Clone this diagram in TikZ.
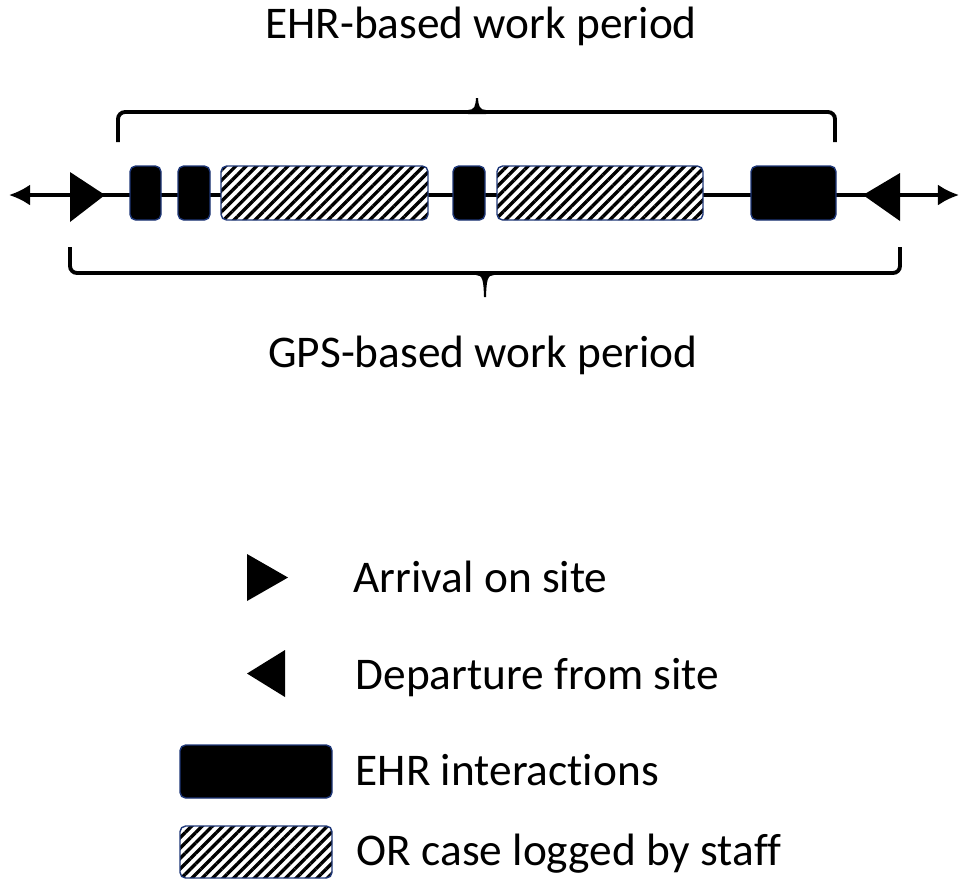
\documentclass[tikz,border=0pt]{standalone}
\usepackage{fontspec}
\setmainfont[Ligatures=NoCommon]{Carlito}
\usepackage{tikz}
\usetikzlibrary{arrows.meta, patterns.meta}
\definecolor{edgeblue}{RGB}{30,55,120}

\tikzset{
  ehrbox/.style={draw=edgeblue, line width=0.4pt, fill=black, rounded corners=1.6pt, inner sep=0pt, minimum height=0.54cm},
  orbox/.style={draw=edgeblue, line width=0.4pt, rounded corners=1.6pt, inner sep=0pt, minimum height=0.54cm,
    preaction={fill=white}, pattern={Lines[angle=45, distance=2.1pt, line width=0.95pt]}},
  brace/.style={line width=1.1pt, rounded corners=2pt},
  lbl/.style={font=\fontsize{12.9}{15}\selectfont, inner sep=0pt},
  keylbl/.style={lbl, anchor=base west},
  endtip/.tip={Latex[length=6pt,width=6pt]}
}

\begin{document}
\begin{tikzpicture}
  \useasboundingbox (0,0) rectangle (9.59,-8.82);
  % time line
  \coordinate (tl) at (0.09,-1.95);
  \coordinate (tr) at (9.59,-1.95);
  \draw[line width=0.9pt, endtip-endtip] (tl) -- (tr);
  % arrival / departure
  \fill (0.70,-1.72) -- (1.05,-1.95) -- (0.70,-2.22) -- cycle;
  \fill (9.00,-1.73) -- (8.63,-1.95) -- (9.00,-2.21) -- cycle;
  % EHR interactions and OR cases
  \node[ehrbox, minimum width=0.31cm] (e1) at (1.455,-1.93) {};
  \node[ehrbox, minimum width=0.32cm] (e2) at (1.94,-1.93) {};
  \node[orbox, minimum width=2.07cm] (c1) at (3.245,-1.93) {};
  \node[ehrbox, minimum width=0.32cm] (e3) at (4.69,-1.93) {};
  \node[orbox, minimum width=2.06cm] (c2) at (6.00,-1.93) {};
  \node[ehrbox, minimum width=0.85cm] (e4) at (7.935,-1.93) {};
  % braces
  \draw[brace] (1.18,-1.42) -- (1.18,-1.12) -- (4.70,-1.12);
  \draw[brace] (8.35,-1.42) -- (8.35,-1.12) -- (4.84,-1.12);
  \fill (4.68,-1.10) .. controls (4.745,-1.10) and (4.755,-1.06) .. (4.76,-0.98) -- (4.78,-0.98)
        .. controls (4.785,-1.06) and (4.795,-1.10) .. (4.86,-1.10) -- (4.86,-1.14) -- (4.68,-1.14) -- cycle;
  \draw[brace] (0.70,-2.47) -- (0.70,-2.73) -- (4.78,-2.73);
  \draw[brace] (9.00,-2.47) -- (9.00,-2.73) -- (4.92,-2.73);
  \fill (4.76,-2.75) .. controls (4.825,-2.75) and (4.835,-2.80) .. (4.84,-2.97) -- (4.86,-2.97)
        .. controls (4.865,-2.80) and (4.875,-2.75) .. (4.94,-2.75) -- (4.94,-2.71) -- (4.76,-2.71) -- cycle;
  \node[lbl, anchor=base] (ehrper) at (4.81,-0.38) {EHR-based work period};
  \node[lbl, anchor=base] (gpsper) at (4.83,-3.67) {GPS-based work period};
  % legend
  \fill (2.47,-5.54) -- (2.88,-5.775) -- (2.47,-6.01) -- cycle;
  \fill (2.85,-6.50) -- (2.47,-6.735) -- (2.85,-6.97) -- cycle;
  \node[ehrbox, minimum width=1.52cm, minimum height=0.53cm] (kehr) at (2.56,-7.715) {};
  \node[orbox, minimum width=1.52cm, minimum height=0.52cm] (kor) at (2.56,-8.52) {};
  \node[keylbl] (karr) at (3.53,-5.92) {Arrival on site};
  \node[keylbl] (kdep) at (3.55,-6.89) {Departure from site};
  \node[keylbl] (kehrt) at (3.55,-7.85) {EHR interactions};
  \node[keylbl] (kort) at (3.56,-8.65) {OR case logged by staff};
\end{tikzpicture}
\end{document}
